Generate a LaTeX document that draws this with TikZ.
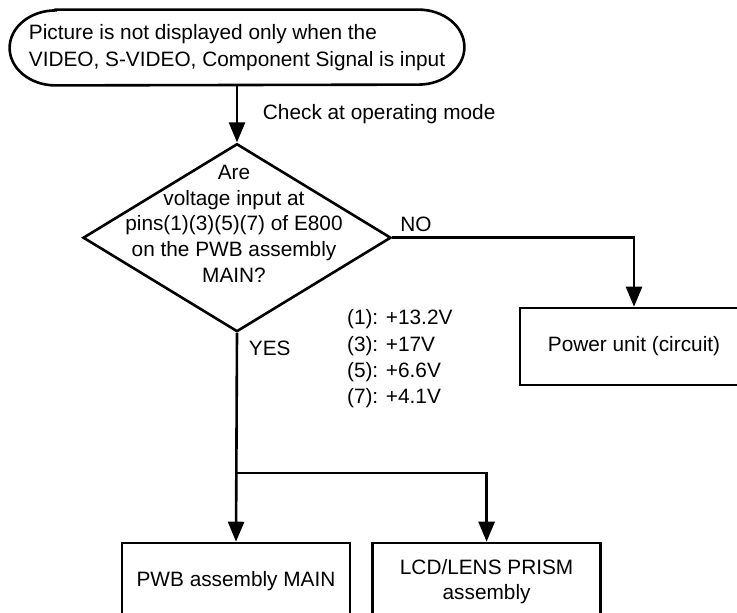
\documentclass[tikz,border=0pt]{standalone}
\usepackage{fontspec}
\setmainfont{Liberation Sans}
\usepackage{tikz}
\usetikzlibrary{arrows.meta,positioning,calc,shapes.geometric}

\begin{document}
\begin{tikzpicture}[
    x=0.5pt, y=-0.5pt,
    txt/.style={font=\fontsize{10.4}{12.8}\selectfont},
    box/.style={draw, line width=1.3pt, minimum width=114pt, minimum height=38.5pt, align=center, txt},
    term/.style={minimum width=227pt, minimum height=37.5pt, align=left, txt},
    decision/.style={draw, diamond, line width=1.3pt, inner sep=0pt, minimum width=154pt, minimum height=94pt},
    arr/.style={-{Triangle[length=10pt, width=8pt]}, line width=1.3pt},
    node distance=10pt
]
\useasboundingbox (0,0) rectangle (737,612);
\clip (0,0) rectangle (737,612);

\node[term] (start) at (237,47.5) {Picture is not displayed only when the\\[1pt]VIDEO, S-VIDEO, Component Signal is input};
\draw[line width=1.3pt] ($(start.north west)+(46,0)$) -- ($(start.north east)+(-46,0)$)
    arc[start angle=90, end angle=-90, x radius=23pt, y radius=18.75pt]
    -- ($(start.south west)+(46,0)$)
    arc[start angle=270, end angle=90, x radius=23pt, y radius=18.75pt] -- cycle;

\node[decision, below=28.5pt of start] (chk) {};
\node[txt, align=center] (chktxt) at ($(chk.center)+(-3,-14)$) {Are\\voltage input at\\pins(1)(3)(5)(7) of E800\\on the PWB assembly\\MAIN?};
\node[box] (power) at (634,346.5) {Power unit (circuit)};
\node[box] (pwb) at (236,581.5) {PWB assembly MAIN};
\node[box, right=of pwb] (lcd) {LCD/LENS PRISM\\assembly};
\node[align=left, anchor=west, font=\fontsize{10.4}{13.2}\selectfont] (volt) at (340,359) {(1): +13.2V\\(3): +17V\\(5): +6.6V\\(7): +4.1V};
\coordinate (split) at ($(chk.south)!0.5!(pwb.north)+(0,35.5)$);

\draw[arr] (start) -- (chk) node[midway, right=9pt, txt] {Check at operating mode};
\draw[arr] (chk.east) node[above right, txt, yshift=-1pt] {NO} -| (power.north);
\draw[arr] (chk.south) node[below right, txt, xshift=2pt] {YES} -- (pwb.north);
\draw[arr] (split) -| (lcd.north);
\end{tikzpicture}
\end{document}
